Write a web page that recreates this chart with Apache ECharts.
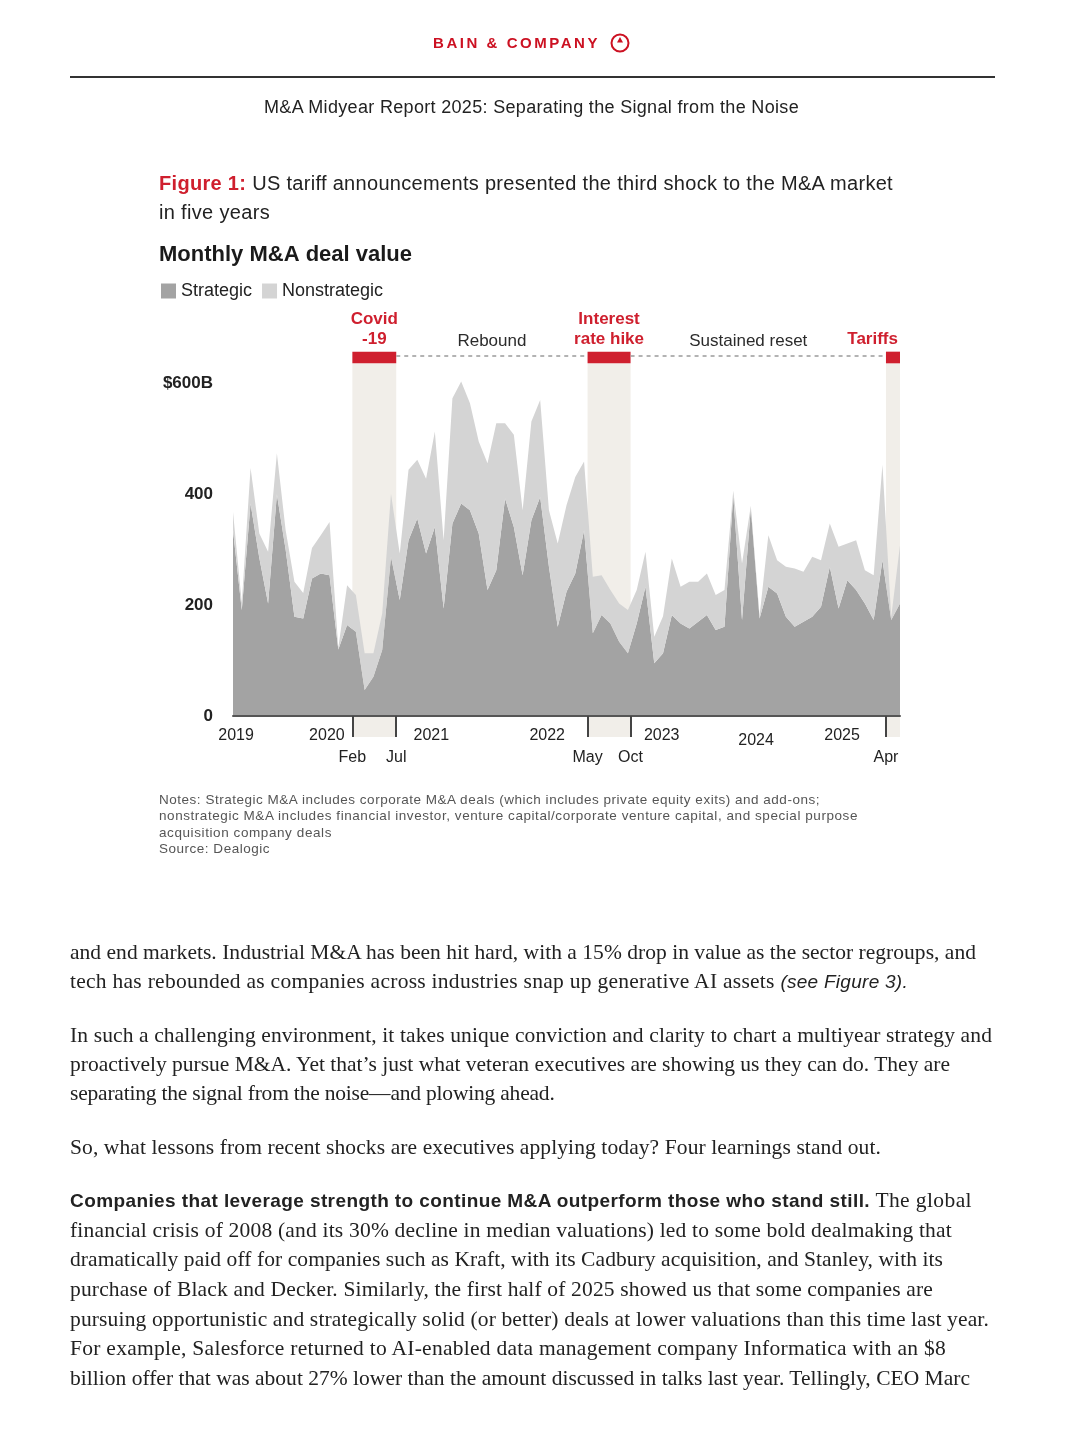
<!DOCTYPE html>
<html>
<head>
<meta charset="utf-8">
<script src="https://cdn.jsdelivr.net/npm/echarts@6/dist/echarts.min.js"></script>
<style>
html,body{margin:0;padding:0;background:#fff;}
#page{position:relative;width:1080px;height:1443px;overflow:hidden;background:#fff;}
#chart{position:absolute;left:0;top:0;width:1080px;height:1443px;}
.t{position:absolute;white-space:nowrap;display:inline-block;color:#222;line-height:1.2;}
.sans{font-family:"Liberation Sans",Arial,sans-serif;}
.serif{font-family:"Liberation Serif","Times New Roman",serif;}
.red{color:#cf1f2e;}
</style>
</head>
<body>
<div id="page">
  <div id="chart"></div>

  <div class="t sans" data-w="167" style="left:433px;top:34px;font-size:15px;font-weight:bold;color:#cc1122;">BAIN &amp; COMPANY</div>
  <svg style="position:absolute;left:609px;top:32px;" width="22" height="22" viewBox="0 0 22 22">
    <circle cx="11" cy="11" r="8.5" fill="none" stroke="#cc1122" stroke-width="2"/>
    <path d="M11 5 L14 10.5 L8 10.5 Z" fill="#cc1122"/>
  </svg>
  <div style="position:absolute;left:70px;top:76px;width:925px;height:2px;background:#333;"></div>

  <div class="t sans" data-w="535" style="left:264px;top:97px;font-size:18px;">M&amp;A Midyear Report 2025: Separating the Signal from the Noise</div>

  <div class="t sans" data-w="734" style="left:159px;top:171px;font-size:20px;"><span class="red" style="font-weight:bold;">Figure 1:</span> US tariff announcements presented the third shock to the M&amp;A market</div>
  <div class="t sans" data-w="111" style="left:159px;top:200px;font-size:20px;">in five years</div>

  <div class="t sans" data-w="661" style="left:159px;top:792px;font-size:13.5px;color:#555;">Notes: Strategic M&amp;A includes corporate M&amp;A deals (which includes private equity exits) and add-ons;</div>
  <div class="t sans" data-w="699" style="left:159px;top:808px;font-size:13.5px;color:#555;">nonstrategic M&amp;A includes financial investor, venture capital/corporate venture capital, and special purpose</div>
  <div class="t sans" data-w="173" style="left:159px;top:825px;font-size:13.5px;color:#555;">acquisition company deals</div>
  <div class="t sans" data-w="111" style="left:159px;top:841px;font-size:13.5px;color:#555;">Source: Dealogic</div>

  <div class="t serif" data-w="906" style="left:70px;top:940px;font-size:21.5px;">and end markets. Industrial M&amp;A has been hit hard, with a 15% drop in value as the sector regroups, and</div>
  <div class="t serif" data-w="838" style="left:70px;top:969px;font-size:21.5px;">tech has rebounded as companies across industries snap up generative AI assets <span class="sans" style="font-style:italic;font-size:19px;">(see Figure 3).</span></div>
  <div class="t serif" data-w="922" style="left:70px;top:1023px;font-size:21.5px;">In such a challenging environment, it takes unique conviction and clarity to chart a multiyear strategy and</div>
  <div class="t serif" data-w="880" style="left:70px;top:1052px;font-size:21.5px;">proactively pursue M&amp;A. Yet that’s just what veteran executives are showing us they can do. They are</div>
  <div class="t serif" style="left:70px;top:1081px;font-size:21.5px;letter-spacing:-0.2px;">separating the signal from the noise—and plowing ahead.</div>
  <div class="t serif" data-w="811" style="left:70px;top:1135px;font-size:21.5px;">So, what lessons from recent shocks are executives applying today? Four learnings stand out.</div>
  <div class="t serif" data-w="902" style="left:70px;top:1188px;font-size:21.5px;"><span class="sans" style="font-weight:bold;font-size:19px;">Companies that leverage strength to continue M&amp;A outperform those who stand still.</span> The global</div>
  <div class="t serif" data-w="882" style="left:70px;top:1218px;font-size:21.5px;">financial crisis of 2008 (and its 30% decline in median valuations) led to some bold dealmaking that</div>
  <div class="t serif" data-w="873" style="left:70px;top:1247px;font-size:21.5px;">dramatically paid off for companies such as Kraft, with its Cadbury acquisition, and Stanley, with its</div>
  <div class="t serif" data-w="863" style="left:70px;top:1277px;font-size:21.5px;">purchase of Black and Decker. Similarly, the first half of 2025 showed us that some companies are</div>
  <div class="t serif" data-w="919" style="left:70px;top:1307px;font-size:21.5px;">pursuing opportunistic and strategically solid (or better) deals at lower valuations than this time last year.</div>
  <div class="t serif" data-w="876" style="left:70px;top:1336px;font-size:21.5px;">For example, Salesforce returned to AI-enabled data management company Informatica with an $8</div>
  <div class="t serif" data-w="900" style="left:70px;top:1366px;font-size:21.5px;">billion offer that was about 27% lower than the amount discussed in talks last year. Tellingly, CEO Marc</div>
</div>

<script>
// ---------------- DATA ----------------
const months = [
  'Jan 2019','Feb 2019','Mar 2019','Apr 2019','May 2019','Jun 2019','Jul 2019','Aug 2019','Sep 2019','Oct 2019','Nov 2019','Dec 2019',
  'Jan 2020','Feb 2020','Mar 2020','Apr 2020','May 2020','Jun 2020','Jul 2020','Aug 2020','Sep 2020','Oct 2020','Nov 2020','Dec 2020',
  'Jan 2021','Feb 2021','Mar 2021','Apr 2021','May 2021','Jun 2021','Jul 2021','Aug 2021','Sep 2021','Oct 2021','Nov 2021','Dec 2021',
  'Jan 2022','Feb 2022','Mar 2022','Apr 2022','May 2022','Jun 2022','Jul 2022','Aug 2022','Sep 2022','Oct 2022','Nov 2022','Dec 2022',
  'Jan 2023','Feb 2023','Mar 2023','Apr 2023','May 2023','Jun 2023','Jul 2023','Aug 2023','Sep 2023','Oct 2023','Nov 2023','Dec 2023',
  'Jan 2024','Feb 2024','Mar 2024','Apr 2024','May 2024','Jun 2024','Jul 2024','Aug 2024','Sep 2024','Oct 2024','Nov 2024','Dec 2024',
  'Jan 2025','Feb 2025','Mar 2025','Apr 2025','May 2025'
];
// $B per month
const strategic = [
  335,191,383,285,203,400,300,179,176,248,257,254,
  120,164,152,47,71,119,287,209,317,356,293,341,
  194,347,383,371,329,227,263,392,341,254,353,395,
  269,161,224,257,335,149,182,167,134,113,167,233,
  95,113,182,167,158,170,182,155,161,398,173,374,
  176,233,221,179,161,170,179,197,269,194,245,227,
  203,173,281,173,203
];
const nonstrategic = [
  33,13,64,44,93,74,35,63,46,55,69,96,
  3,72,66,66,42,66,114,84,127,106,135,172,
  123,226,220,193,166,229,265,136,166,117,178,175,
  102,150,156,174,124,102,72,60,69,78,60,63,
  48,67,102,66,84,72,75,63,66,8,102,5,
  5,93,60,90,105,90,108,84,78,111,66,90,
  60,81,172,6,105
];
const yearLabels = ['2019','2020','2021','2022','2023','2024','2025'];
const seriesNames = ['Strategic','Nonstrategic'];
const shockNames = ['Covid\n-19','Interest\nrate hike','Tariffs'];
// shock windows, in months since Jan 2019
const shockStart = [13.6, 40.4, 74.4];
const shockEnd = [18.6, 45.3, 76];
const shockTickLabels = ['Feb','Jul','May','Oct','Apr'];
const phaseNames = ['Rebound','Sustained reset'];

// ---------------- CHART ----------------
const FONT = '"Liberation Sans", Arial, sans-serif';
const RED = '#cf1f2e';
const BAND = '#f1eee9';
const yearNudge = [0.35, -1.3, -1.4, -0.2, 0.85, -0.4, -2.6];
const yearPos = yearLabels.map((y, i) => months.indexOf('Jan ' + y) + yearNudge[i]);
const tickPos = [shockStart[0], shockEnd[0], shockStart[1], shockEnd[1], shockStart[2]];
const xMax = months.length - 1;

const bandItems = shockStart.map((s, k) => [
  {xAxis: s, yAxis: 0, itemStyle: {color: BAND}, label: {show: false}},
  {xAxis: shockEnd[k], yAxis: 636}
]);
const redItems = shockStart.map((s, k) => [
  Object.assign({name: shockNames[k], xAxis: s, yAxis: 636, itemStyle: {color: RED}},
    k === 2 ? {label: {align: 'right', offset: [5, 0]}} : {}),
  {xAxis: shockEnd[k], yAxis: 657}
]);

const chart = echarts.init(document.getElementById('chart'), null, {renderer: 'canvas'});
const option = {
  backgroundColor: 'transparent',
  animation: false,
  textStyle: {fontFamily: FONT},
  title: {
    text: 'Monthly M&A deal value', left: 159, top: 244, padding: 0,
    textStyle: {fontFamily: FONT, fontSize: 22, fontWeight: 'bold', color: '#1a1a1a'}
  },
  legend: {
    data: seriesNames, left: 161, top: 282, padding: 0, icon: 'rect',
    itemWidth: 15, itemHeight: 15, itemGap: 10,
    textStyle: {fontFamily: FONT, fontSize: 18, color: '#222'}
  },
  grid: [
    {left: 233, right: 180, top: 350, height: 366},
    {left: 233, right: 180, top: 717, height: 20}
  ],
  xAxis: [
    {
      gridIndex: 0, type: 'value', min: 0, max: xMax, z: 10,
      splitLine: {show: false},
      axisLine: {show: true, lineStyle: {color: '#555', width: 2}},
      axisTick: {show: true, customValues: tickPos, length: 21, lineStyle: {color: '#444', width: 2}},
      axisLabel: {
        customValues: yearPos, margin: 12, fontSize: 16, color: '#222', fontFamily: FONT,
        formatter: v => {
          const i = yearPos.findIndex(p => Math.abs(p - v) < 1e-6);
          if (i < 0) return '';
          return yearLabels[i] === '2024' ? '{low|2024}' : yearLabels[i];
        },
        rich: {low: {fontSize: 16, color: '#222', fontFamily: FONT, padding: [5, 0, 0, 0]}}
      }
    },
    {gridIndex: 1, type: 'value', min: 0, max: xMax, show: false},
    {
      gridIndex: 0, type: 'value', min: 0, max: xMax, position: 'bottom', z: 10,
      splitLine: {show: false}, axisLine: {show: false}, axisTick: {show: false},
      axisLabel: {
        customValues: tickPos, margin: 34, fontSize: 16, color: '#222', fontFamily: FONT,
        formatter: v => {
          const i = tickPos.findIndex(p => Math.abs(p - v) < 1e-6);
          return i < 0 ? '' : shockTickLabels[i];
        }
      }
    },
    {gridIndex: 0, type: 'category', data: months, boundaryGap: false, show: false, position: 'bottom'}
  ],
  yAxis: [
    {
      gridIndex: 0, type: 'value', min: 0, max: 660, interval: 200,
      axisLine: {show: false}, axisTick: {show: false}, splitLine: {show: false},
      axisLabel: {
        showMaxLabel: false, margin: 20, fontSize: 17, fontWeight: 'bold', color: '#222', fontFamily: FONT,
        formatter: v => (v === 600 ? '$600B' : String(v))
      }
    },
    {gridIndex: 1, type: 'value', min: 0, max: 1, show: false}
  ],
  series: [
    {
      name: seriesNames[0], type: 'line', stack: 'deal', xAxisIndex: 3, yAxisIndex: 0,
      symbol: 'none', silent: true, z: 2,
      lineStyle: {width: 0}, itemStyle: {color: '#a3a3a3'},
      areaStyle: {color: '#a3a3a3', opacity: 1},
      data: strategic
    },
    {
      name: seriesNames[1], type: 'line', stack: 'deal', xAxisIndex: 3, yAxisIndex: 0,
      symbol: 'none', silent: true, z: 2,
      lineStyle: {width: 0}, itemStyle: {color: '#d4d4d4'},
      areaStyle: {color: '#d4d4d4', opacity: 1},
      data: nonstrategic
    },
    {
      name: 'shocks', type: 'line', xAxisIndex: 0, yAxisIndex: 0, data: [], silent: true,
      markArea: {
        silent: true,
        label: {show: true, position: 'top', distance: 2, color: RED, fontWeight: 'bold',
                fontSize: 17, lineHeight: 20, fontFamily: FONT},
        data: bandItems.concat(redItems)
      },
      markLine: {
        silent: true, symbol: ['none', 'none'],
        lineStyle: {color: '#9b9b9b', type: [4, 4], width: 1.5},
        label: {show: true, position: 'insideMiddleTop', formatter: '{b}', color: '#2b2b2b',
                fontSize: 17, distance: 6, fontFamily: FONT},
        data: [
          [{name: phaseNames[0], coord: [shockEnd[0], 649]}, {coord: [shockStart[1], 649]}],
          [{name: phaseNames[1], coord: [shockEnd[1], 649], label: {padding: [0, 20, 0, 0]}}, {coord: [shockStart[2], 649]}]
        ]
      }
    },
    {
      name: 'shocksBelow', type: 'line', xAxisIndex: 1, yAxisIndex: 1, data: [], silent: true,
      markArea: {
        silent: true, itemStyle: {color: BAND}, label: {show: false},
        data: shockStart.map((s, k) => [{xAxis: s}, {xAxis: shockEnd[k]}])
      }
    }
  ]
};
chart.setOption(option);

// fit each text line to its measured width in the original layout
document.querySelectorAll('[data-w]').forEach(el => {
  const target = +el.dataset.w;
  el.style.letterSpacing = '0px';
  const w = el.getBoundingClientRect().width;
  const n = el.textContent.length;
  el.style.letterSpacing = ((target - w) / n) + 'px';
});
</script>
</body>
</html>
